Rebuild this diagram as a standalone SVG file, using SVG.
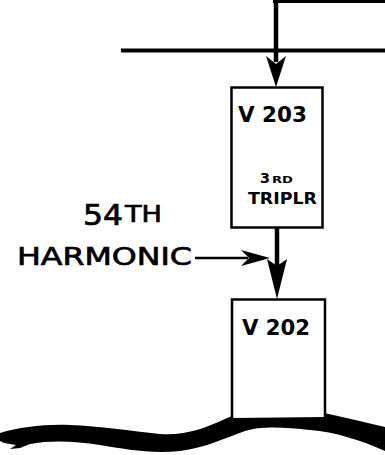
<svg xmlns="http://www.w3.org/2000/svg" width="385" height="455" viewBox="0 0 385 455">
<style>
.box{fill:#fff;stroke:#000;stroke-width:2.5}
.ln{stroke:#000;fill:none;stroke-linecap:butt}
.hd{fill:#000}
.lbl{font-family:"DejaVu Sans",sans-serif;font-weight:bold;fill:#000}
.big{font-family:"DejaVu Sans",sans-serif;fill:#000;stroke:#000;stroke-width:0.7}
</style>
<rect width="385" height="455" fill="#fff"/>
<g id="wave">
<path fill="#000" d="M0,433 C20,427 45,424 70,425 C100,426 130,431 160,434 C185,436 205,428 225,419 C245,410 265,405 290,407 C320,411 350,419 385,427 L385,451 C360,440 335,432 310,430 C285,427 260,426 245,431 C225,438 205,448 180,451 C150,454 125,449 100,445 C75,441 50,440 30,444 L20,448 L10,449 L16,445 L4,443 L0,441 Z"/>
</g>
<g id="node-v203">
<rect class="box" x="231.5" y="87.5" width="91" height="140"/>
<text class="lbl" x="238" y="121.5" font-size="21" textLength="69" lengthAdjust="spacingAndGlyphs">V 203</text>
<text class="lbl" x="260" y="182.5" font-size="14" textLength="10" lengthAdjust="spacingAndGlyphs">3</text>
<text class="lbl" x="272" y="182.5" font-size="9.5" textLength="21" lengthAdjust="spacingAndGlyphs">RD</text>
<text class="lbl" x="248" y="204" font-size="15.5" textLength="69" lengthAdjust="spacingAndGlyphs">TRIPLR</text>
</g>
<g id="node-v202">
<path class="box" d="M232,418 L232,299.5 L325,299.5 L325,417"/>
<text class="lbl" x="242" y="334.5" font-size="21" textLength="68" lengthAdjust="spacingAndGlyphs">V 202</text>
</g>
<g id="label-54th">
<text class="big" x="83" y="225" font-size="28" textLength="40" lengthAdjust="spacingAndGlyphs">54</text>
<text class="big" x="125" y="222" font-size="22.5" textLength="37" lengthAdjust="spacingAndGlyphs">TH</text>
<text class="big" x="17" y="265" font-size="25" textLength="175" lengthAdjust="spacingAndGlyphs">HARMONIC</text>
</g>
<g id="connectors">
<line class="ln" x1="273" y1="1.5" x2="385" y2="1.5" stroke-width="3"/>
<line class="ln" x1="276" y1="0" x2="276" y2="62" stroke-width="4.5"/>
<line class="ln" x1="121" y1="50.5" x2="385" y2="50.5" stroke-width="4"/>
<polygon class="hd" points="266,56 276,64 286,56 276,87"/>
<line class="ln" x1="277" y1="228" x2="277" y2="266" stroke-width="4.5"/>
<polygon class="hd" points="267,259 277,266 287,259 277,299"/>
<line class="ln" x1="195" y1="258" x2="248" y2="258" stroke-width="2.5"/>
<polygon class="hd" points="241,250 249,258 241,266 270,258"/>
</g>
</svg>
